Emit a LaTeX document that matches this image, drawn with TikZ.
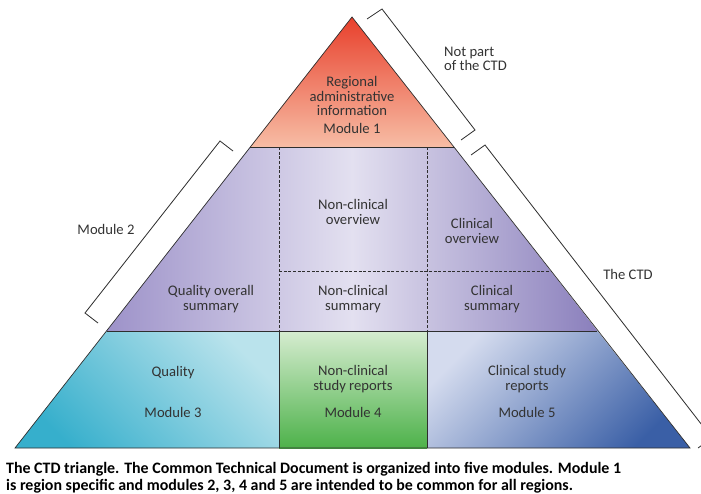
\documentclass[tikz,border=0pt]{standalone}
\usepackage{fontspec}
\setmainfont{Carlito}
\definecolor{edge}{HTML}{2E2E2E}
\definecolor{txt}{HTML}{333333}
\definecolor{modatop}{HTML}{E8402C}
\definecolor{modabot}{HTML}{F7BDA5}
\definecolor{modbside}{HTML}{9D92C9}
\definecolor{modbmid}{HTML}{E3E0F0}
\definecolor{modbright}{HTML}{8A7FBC}
\definecolor{modctop}{HTML}{BAE3EC}
\definecolor{modcbot}{HTML}{36AFCC}
\definecolor{moddtop}{HTML}{D6ECD0}
\definecolor{moddbot}{HTML}{4DB24A}
\definecolor{modetop}{HTML}{D4DBEE}
\definecolor{modebot}{HTML}{3A5FA6}

\begin{document}
\begin{tikzpicture}[x=0.3mm, y=-0.3mm,
    lbl/.style = {align=center, text=txt, font=\fontsize{12.5}{12.4}\selectfont},
    brk/.style = {draw=edge, line width=0.7pt},
    sep/.style = {draw=edge, line width=0.6pt},
    dsh/.style = {draw=edge, line width=0.5pt, dash pattern=on 2.5pt off 1.5pt}]
    \clip (0,0) rectangle (701,493);
    \coordinate (top) at (352,17);
    \coordinate (bl) at (15,448);
    \coordinate (br) at (690,448);
    \coordinate (l1) at (250,147);
    \coordinate (r1) at (454,147);
    \coordinate (l2) at (106.6,331);
    \coordinate (r2) at (597.4,331);
    \coordinate (r3) at (551,271);
    \coordinate (c1) at (279,147);
    \coordinate (c2) at (427,147);
    \coordinate (c1m) at (279,271);
    \coordinate (c1b) at (279,331);
    \coordinate (c2b) at (427,331);
    \coordinate (c1f) at (279,448);
    \coordinate (c2f) at (427,448);
    \shade[top color=modatop, bottom color=modabot] (top) -- (r1) -- (l1) -- cycle;
    \shade[left color=modbside, right color=modbright, middle color=modbmid] (l1) -- (r1) -- (r2) -- (l2) -- cycle;
    \shade[top color=modctop, bottom color=modcbot, shading angle=-45] (l2) -- (c1b) -- (c1f) -- (bl) -- cycle;
    \shade[top color=moddtop, bottom color=moddbot] (c1b) -- (c2b) -- (c2f) -- (c1f) -- cycle;
    \shade[top color=modetop, bottom color=modebot, shading angle=45] (c2b) -- (r2) -- (br) -- (c2f) -- cycle;
    \draw[dsh] (c1) -- (c1b);
    \draw[dsh] (c2) -- (c2b);
    \draw[dsh] (c1m) -- (r3);
    \draw[sep] (l1) -- (r1);
    \draw[sep] (l2) -- (r2);
    \draw[sep] (c1b) -- (c1f);
    \draw[sep] (c2b) -- (c2f);
    \draw[sep] (top) -- (br) -- (bl) -- cycle;
    \node[lbl] (mod1) at (352,105) {Regional\\administrative\\information\\[3pt]Module 1};
    \node[lbl] (ncover) at (353,212) {Non-clinical\\overview};
    \node[lbl] (clover) at (472,231) {Clinical\\overview};
    \node[lbl] (qosum) at (211,299) {Quality overall\\summary};
    \node[lbl] (ncsum) at (353,299) {Non-clinical\\summary};
    \node[lbl] (clsum) at (492,299) {Clinical\\summary};
    \node[lbl] (qual) at (173,373) {Quality};
    \node[lbl] (mod3) at (173,412) {Module 3};
    \node[lbl] (ncrep) at (353,379) {Non-clinical\\study reports};
    \node[lbl] (mod4) at (353,412) {Module 4};
    \node[lbl] (clrep) at (527,379) {Clinical study\\reports};
    \node[lbl] (mod5) at (527,412) {Module 5};
    \node[lbl] (mod2) at (106,229) {Module 2};
    \node[lbl, align=left, anchor=west] (notpart) at (440,59) {Not part\\of the CTD};
    \node[lbl] (ctd) at (628,274) {The CTD};
    \coordinate (na) at (367,19);
    \coordinate (nb) at (382,9);
    \coordinate (nc) at (475,130);
    \coordinate (nd) at (461,140);
    \draw[brk] (na) -- (nb) -- (nc) -- (nd);
    \coordinate (ta) at (471,155);
    \coordinate (tb) at (485,145);
    \coordinate (tc) at (712,438);
    \coordinate (td) at (698,448);
    \draw[brk] (ta) -- (tb) -- (tc) -- (td);
    \coordinate (ma) at (233,151);
    \coordinate (mb) at (220,141);
    \coordinate (mc) at (85,313);
    \coordinate (md) at (98,323);
    \draw[brk] (ma) -- (mb) -- (mc) -- (md);
    \node[align=left, anchor=west, text=black, font=\fontsize{13.6}{14.5}\selectfont\bfseries] (capt) at (2,477.5)
        {The CTD triangle. The Common Technical Document is organized into five modules. Module 1\\is region specific and modules 2, 3, 4 and 5 are intended to be common for all regions.};
\end{tikzpicture}
\end{document}
